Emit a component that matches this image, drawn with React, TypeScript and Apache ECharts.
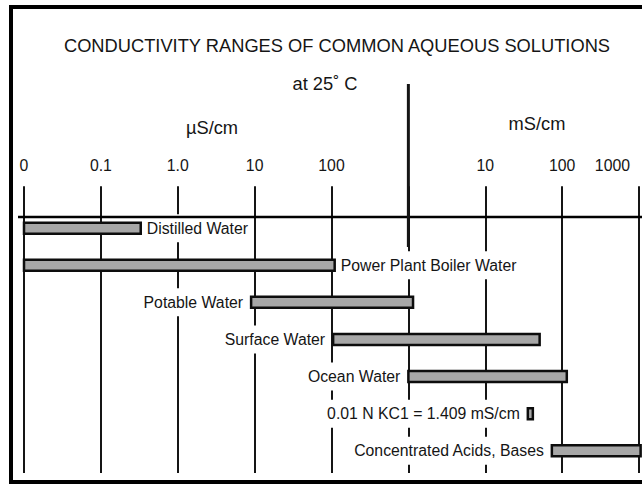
import React, { useEffect, useRef } from "react";
import * as echarts from "echarts";

// conductivity ranges, all in µS/cm (log scale)
const solutions = [
  "Distilled Water",
  "Power Plant Boiler Water",
  "Potable Water",
  "Surface Water",
  "Ocean Water",
  "0.01 N KC1 = 1.409 mS/cm",
  "Concentrated Acids, Bases",
];
const rangeLow = [0.01, 0.01, 9, 105, 1000, 35800, 73500];
const rangeHigh = [0.33, 110, 1150, 51000, 115000, 41600, 1050000];
const labelSide = ["right", "right", "left", "left", "left", "left", "left"];

const tickValues = [0.01, 0.1, 1, 10, 100, 1000, 10000, 100000, 1000000];
const tickLabels = ["0", "0.1", "1.0", "10", "100", "", "10", "100", "1000"];
const unitDivider = 1000; // 1000 µS/cm = 1 mS/cm

const titleText = "CONDUCTIVITY RANGES OF COMMON AQUEOUS SOLUTIONS";
const subtitleText = "at 25\u02DA C";
const leftUnit = "\u00B5S/cm";
const rightUnit = "mS/cm";

const FONT = "'Liberation Sans', Arial, Helvetica, sans-serif";
const INK = "#151515";
const LABEL_SIZE = 15.8;

export default function App() {
  const ref = useRef<HTMLDivElement>(null);

  useEffect(() => {
    document.body.style.margin = "0";
    const chart = echarts.init(ref.current!, undefined, { renderer: "svg" });

    const data = solutions.map((_, i) => [i, rangeLow[i], rangeHigh[i]]);

    chart.setOption({
      animation: false,
      backgroundColor: "#ffffff",
      grid: {
        left: 24,
        right: 3,
        top: 217,
        bottom: 12,
        containLabel: false,
        outerBoundsMode: "none",
      },
      xAxis: {
        type: "log",
        logBase: 10,
        position: "top",
        min: tickValues[0],
        max: tickValues[tickValues.length - 1],
        interval: 1,
        axisLine: { show: false },
        axisTick: {
          show: true,
          inside: false,
          length: 42,
          lineStyle: { color: INK, width: 2 },
        },
        splitLine: { show: true, lineStyle: { color: INK, width: 2 } },
        axisLabel: {
          show: true,
          margin: 44,
          color: INK,
          fontFamily: FONT,
          fontSize: LABEL_SIZE,
          showMinLabel: true,
          showMaxLabel: true,
          hideOverlap: false,
          alignMinLabel: "center",
          alignMaxLabel: "right",
          formatter: (v: number) => {
            let best = 0;
            for (let k = 0; k < tickValues.length; k++) {
              if (Math.abs(Math.log10(tickValues[k]) - Math.log10(v)) <
                  Math.abs(Math.log10(tickValues[best]) - Math.log10(v))) best = k;
            }
            const t = tickLabels[best];
            return best === tickValues.length - 1 ? `{last|${t}}` : t;
          },
          rich: {
            last: {
              fontFamily: FONT,
              fontSize: LABEL_SIZE,
              color: INK,
              padding: [0, 9, 0, 0],
            },
          },
        },
      },
      yAxis: {
        type: "value",
        inverse: true,
        min: -0.3,
        max: 6.6,
        show: false,
        splitLine: { show: false },
      },
      series: [
        {
          type: "custom",
          clip: false,
          encode: { x: [1, 2], y: 0 },
          data,
          renderItem: (params: any, api: any) => {
            const i = api.value(0);
            const lo = api.value(1);
            const hi = api.value(2);
            const p0 = api.coord([lo, i]);
            const p1 = api.coord([hi, i]);
            const h = 11;
            const side = labelSide[i];
            const textX = side === "right" ? p1[0] + 4 : p0[0] - 6;
            return {
              type: "group",
              children: [
                {
                  type: "text",
                  z2: 5,
                  style: {
                    text: solutions[i],
                    x: textX,
                    y: p0[1],
                    align: side === "right" ? "left" : "right",
                    verticalAlign: "middle",
                    fontFamily: FONT,
                    fontSize: LABEL_SIZE,
                    fill: INK,
                    backgroundColor: "#ffffff",
                    padding: [6, 2, 6, 2],
                  },
                },
                {
                  type: "rect",
                  z2: 10,
                  shape: {
                    x: p0[0],
                    y: p0[1] - h / 2,
                    width: p1[0] - p0[0],
                    height: h,
                  },
                  style: { fill: "#a7a7a7", stroke: "#0d0d0d", lineWidth: 2.5 },
                },
              ],
            };
          },
        },
      ],
    });

    const axisY = chart.convertToPixel({ yAxisIndex: 0 }, -0.3) as number;
    const dividerX = chart.convertToPixel({ xAxisIndex: 0 }, unitDivider) as number;

    const headText = (text: string, x: number, y: number) => ({
      type: "text",
      x,
      y,
      style: {
        text,
        align: "center",
        verticalAlign: "middle",
        fontFamily: FONT,
        fontSize: 18.3,
        fill: INK,
      },
    });

    chart.setOption({
      graphic: [
        {
          type: "rect",
          shape: { x: 11, y: 7, width: 700, height: 475 },
          style: { fill: "none", stroke: "#000", lineWidth: 4 },
          z: 1,
        },
        {
          type: "line",
          shape: { x1: 18, y1: axisY, x2: 642, y2: axisY },
          style: { stroke: "#000", lineWidth: 2.5 },
          z: 3,
        },
        {
          type: "line",
          shape: { x1: dividerX, y1: 84, x2: dividerX, y2: 247 },
          style: { stroke: INK, lineWidth: 3 },
          z: 3,
        },
        headText(titleText, 337, 45),
        headText(subtitleText, 325, 83),
        headText(leftUnit, 212, 127),
        headText(rightUnit, 537, 123),
      ],
    });

    return () => chart.dispose();
  }, []);

  return (
    <div
      ref={ref}
      style={{ position: "absolute", left: 0, top: 0, width: 642, height: 485 }}
    />
  );
}
